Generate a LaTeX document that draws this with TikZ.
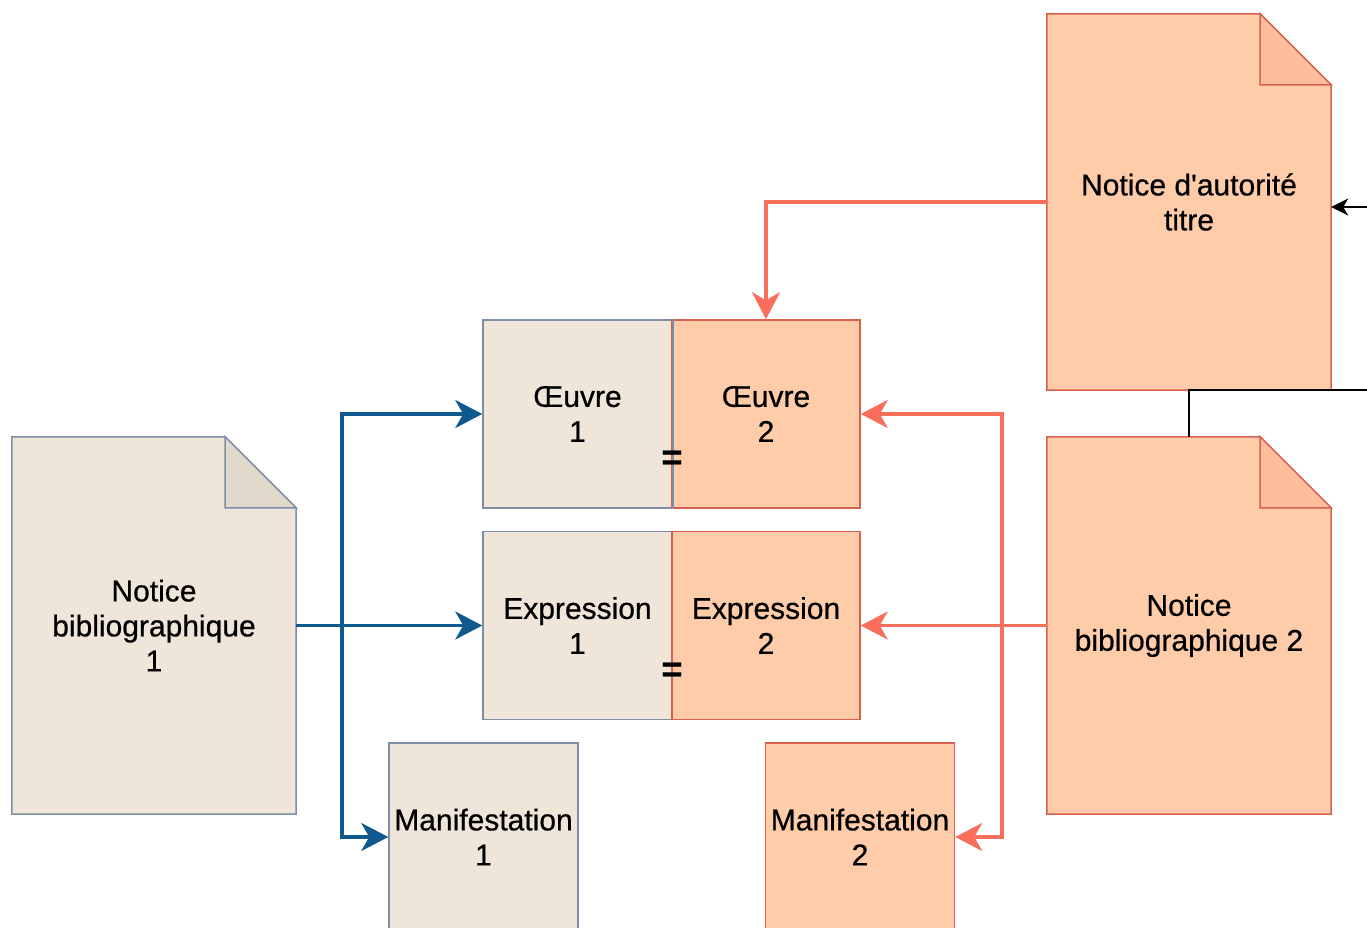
\documentclass[tikz,border=0pt]{standalone}
\usepackage{fontspec}
\setmainfont{Liberation Sans}[Ligatures=TeXOff,FakeBold=0.6]
\usetikzlibrary{arrows.meta}
\definecolor{beigefill}{HTML}{EFE5D9}
\definecolor{beigefold}{HTML}{E2D9CD}
\definecolor{beigeline}{HTML}{7C8FA6}
\definecolor{orfill}{HTML}{FFCCA9}
\definecolor{orfold}{HTML}{FFBE9B}
\definecolor{orline}{HTML}{D9604E}
\definecolor{blueline}{HTML}{10598F}
\definecolor{redline}{HTML}{FA6E5C}
\pgfdeclarelayer{bg}
\pgfsetlayers{bg,main}
\newcommand\drawdoc[4]{%
  \begin{pgfonlayer}{bg}
    \filldraw[fill=#2,draw=#4,line width=1.5pt,line join=miter]
      (#1.north west) -- ([xshift=-71pt]#1.north east) -- ([yshift=-71pt]#1.north east)
      -- (#1.south east) -- (#1.south west) -- cycle;
    \filldraw[fill=#3,draw=#4,line width=1.5pt]
      ([xshift=-71pt]#1.north east) -- ([yshift=-71pt]#1.north east)
      -- ([xshift=-71pt,yshift=-71pt]#1.north east) -- cycle;
  \end{pgfonlayer}}
\begin{document}
\begin{tikzpicture}[x=1pt,y=-1pt,
  lbl/.style={align=center,font=\fontsize{30}{35}\selectfont,inner sep=0pt},
  box/.style={lbl,line width=1.5pt,minimum width=189pt,minimum height=188pt},
  bbox/.style={box,draw=beigeline,fill=beigefill},
  obox/.style={box,draw=orline,fill=orfill},
  docnode/.style={lbl,minimum width=284pt,minimum height=377pt},
  eqsign/.style={font=\fontsize{36}{36}\selectfont\bfseries,inner sep=0pt},
  bl/.style={draw=blueline,line width=3.5pt,-{Stealth[length=27pt,width=28pt,inset=8pt]}},
  rd/.style={draw=redline,line width=3.5pt,-{Stealth[length=27pt,width=28pt,inset=8pt]}},
  bk/.style={draw=black,line width=2pt},
  bka/.style={bk,-{Stealth[length=17pt,width=17pt,inset=5pt]}}]
\useasboundingbox (0,0) rectangle (1367,928);

% documents
\node[docnode] (nb1) at (154,625.5) {Notice\\bibliographique\\1};
\node[docnode,minimum height=376pt] (nat) at (1189,202) {Notice d'autorité\\titre};
\node[docnode] (nb2) at (1189,625.5) {Notice\\bibliographique 2};
\drawdoc{nb1}{beigefill}{beigefold}{beigeline}
\drawdoc{nat}{orfill}{orfold}{orline}
\drawdoc{nb2}{orfill}{orfold}{orline}

% boxes
\node[bbox] (oe1) at (577.5,414) {Œuvre\\1};
\node[obox,minimum width=188pt] (oe2) at (766,414) {Œuvre\\2};
\node[bbox] (ex1) at (577.5,625.5) {Expression\\1};
\node[obox,minimum width=188pt] (ex2) at (766,625.5) {Expression\\2};
\node[bbox] (ma1) at (483.5,837) {Manifestation\\1};
\node[obox] (ma2) at (860,837) {Manifestation\\2};
\draw[beigeline,line width=1.5pt] (oe1.north east) -- (oe1.south east);
\draw[orline,line width=1.5pt] (ex2.north west) -- (ex2.south west);

\node[eqsign] (eq1) at (672,460) {=};
\node[eqsign] (eq2) at (672,672) {=};

% blue connectors
\coordinate (jb) at (342,625.5);
\draw[bl] (nb1.east) -- (jb) |- (oe1.west);
\draw[bl] (nb1.east) -- (ex1.west);
\draw[bl] (nb1.east) -- (jb) |- (ma1.west);

% red connectors
\coordinate (jr) at (1002,625.5);
\draw[rd] (nat.west) -| (oe2.north);
\draw[rd] (nb2.west) -- (jr) |- (oe2.east);
\draw[rd] (nb2.west) -- (ex2.east);
\draw[rd] (nb2.west) -- (jr) |- (ma2.east);

% black connectors
\coordinate (out1) at (1367,390);
\coordinate (out2) at (1367,207);
\draw[bk] (nb2.north) |- (out1);
\draw[bka] (out2) -- (nat.east |- out2);
\end{tikzpicture}
\end{document}
